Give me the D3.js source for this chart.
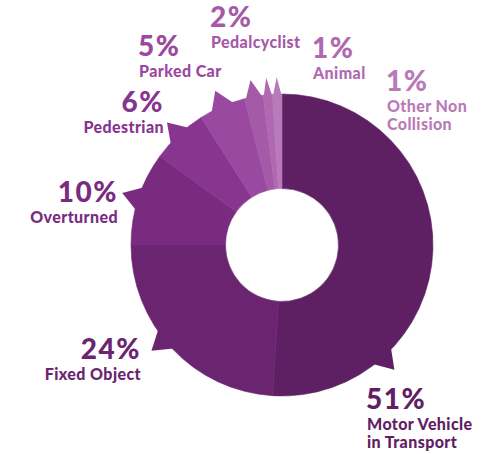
<!DOCTYPE html>
<html>
<head>
<meta charset="utf-8">
<script src="https://cdn.jsdelivr.net/npm/d3@7"></script>
<style>
  html, body { margin: 0; padding: 0; background: #ffffff; }
  svg { display: block; }
  text { font-family: Lato, "Open Sans", sans-serif; font-weight: 900; }
</style>
</head>
<body>
<svg id="chart" width="485" height="454"></svg>
<script>
// Share of crashes by first harmful event
const categories = [
  "Motor Vehicle\nin Transport",
  "Fixed Object",
  "Overturned",
  "Pedestrian",
  "Parked Car",
  "Pedalcyclist",
  "Animal",
  "Other Non\nCollision"
];
const shares = [51, 24, 10, 6, 5, 2, 1, 1];
const colors = ["#5f2063", "#6b2570", "#792c7f", "#87358f", "#9a49a0", "#a55aa8", "#b069b1", "#b97ab9"];

// Label placement for each slice (anchor point of the percentage line)
const labelLayout = [
  { x: 366, y: 409, anchor: "start", pointerDeg: 138 },
  { x: 141, y: 359, anchor: "end",   pointerDeg: 231 },
  { x: 118, y: 202, anchor: "end" },
  { x: 164, y: 112, anchor: "end" },
  { x: 138, y: 56,  anchor: "start" },
  { x: 210, y: 27,  anchor: "start" },
  { x: 312, y: 58,  anchor: "start" },
  { x: 386, y: 91,  anchor: "start" }
];

const cx = 282, cy = 245;
const innerR = 56.5, outerR = 151, tipR = 168;

const svg = d3.select("#chart");
const g = svg.append("g").attr("transform", `translate(${cx},${cy})`);

const data = categories.map((c, i) => ({ name: c, value: shares[i], color: colors[i], layout: labelLayout[i] }));

const pie = d3.pie().value(d => d.value).sort(null).startAngle(0).endAngle(2 * Math.PI);
const arcs = pie(data);
const arc = d3.arc().innerRadius(innerR).outerRadius(outerR);

const toRad = deg => deg * Math.PI / 180;
// polar point with angle measured clockwise from 12 o'clock
const polar = (a, r) => [r * Math.sin(a), -r * Math.cos(a)];

const slices = g.selectAll("g.slice").data(arcs).join("g").attr("class", "slice");

// Pointer spike sticking out of each slice toward its label
slices.append("path")
  .attr("fill", d => d.data.color)
  .attr("d", d => {
    const mid = (d.startAngle + d.endAngle) / 2;
    const a = d.data.layout.pointerDeg != null ? toRad(d.data.layout.pointerDeg) : mid;
    const half = Math.min(toRad(5.2), (d.endAngle - d.startAngle) / 2);
    const p1 = polar(a - half, outerR - 3);
    const p2 = polar(a, tipR);
    const p3 = polar(a + half, outerR - 3);
    return `M${p1}L${p2}L${p3}Z`;
  });

slices.append("path")
  .attr("fill", d => d.data.color)
  .attr("stroke", d => d.data.color)
  .attr("stroke-width", 0.6)
  .attr("d", arc);

// Labels: percentage on top, category name below
const labels = svg.selectAll("g.label").data(arcs).join("g").attr("class", "label");

labels.append("text")
  .attr("x", d => d.data.layout.x)
  .attr("y", d => d.data.layout.y)
  .attr("text-anchor", d => d.data.layout.anchor)
  .attr("fill", d => d.data.color)
  .attr("font-size", 28)
  .attr("letter-spacing", 1.5)
  .text(d => d.data.value + "%");

labels.each(function (d) {
  const lines = d.data.name.split("\n");
  const sel = d3.select(this);
  lines.forEach((line, i) => {
    sel.append("text")
      .attr("x", d.data.layout.x + (d.data.layout.anchor === "start" ? 1 : 0))
      .attr("y", d.data.layout.y + 21 + i * 18)
      .attr("text-anchor", d.data.layout.anchor)
      .attr("fill", d.data.color)
      .attr("font-size", 16)
      .attr("letter-spacing", 0.4)
      .text(line);
  });
});
</script>
</body>
</html>
